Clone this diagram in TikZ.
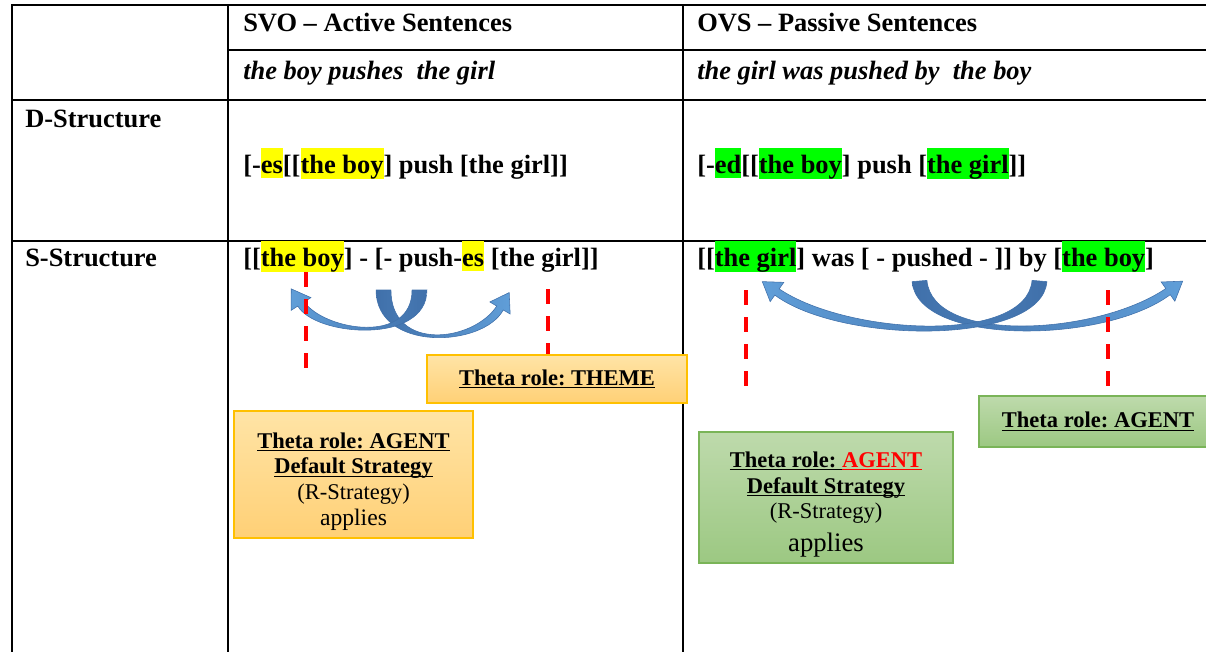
\documentclass[tikz,border=0pt]{standalone}
\usepackage{fontspec}
\setmainfont{Liberation Serif}
\usetikzlibrary{calc}
\definecolor{hlyellow}{RGB}{255,255,0}
\definecolor{hlgreen}{RGB}{0,255,0}
\definecolor{arrowdark}{RGB}{64,112,170}
\definecolor{arrowlight}{RGB}{96,158,216}
\definecolor{themetop}{RGB}{255,228,166}
\definecolor{themebot}{RGB}{255,208,118}
\definecolor{themeline}{RGB}{255,192,0}
\definecolor{agenttop}{RGB}{190,218,172}
\definecolor{agentbot}{RGB}{156,200,130}
\definecolor{agentline}{RGB}{122,180,88}
\frenchspacing
% fonts and text marks
\newcommand{\cellfont}{\fontsize{18.8}{22}\selectfont\bfseries}
\newcommand{\boxfont}{\fontsize{16}{18.2}\selectfont}
\newcommand{\hly}[1]{{\setlength{\fboxsep}{0pt}\colorbox{hlyellow}{\rule[-3.9pt]{0pt}{22pt}#1}}}
\newcommand{\hlg}[1]{{\setlength{\fboxsep}{0pt}\colorbox{hlgreen}{\rule[-3.9pt]{0pt}{22pt}#1}}}
\newcommand{\ulin}[1]{\underline{\smash{#1}}\vphantom{#1}}
% curved block arrow: start, control 1, control 2, end, style
\newcommand{\bendarrow}[5]{%
  \path[#5] ($(#1)!5.3pt!90:(#2)$) .. controls ($(#2)!5.3pt!-90:(#1)$) and ($(#3)!4pt!90:(#4)$) .. ($(#4)!2.7pt!-90:(#3)$)
    -- ($(#4)!8.4pt!-90:(#3)$) -- ($(#4)!12.8pt!180:(#3)$) -- ($(#4)!8.4pt!90:(#3)$) -- ($(#4)!2.7pt!90:(#3)$)
    .. controls ($(#3)!4pt!-90:(#4)$) and ($(#2)!5.3pt!90:(#1)$) .. ($(#1)!5.3pt!-90:(#2)$) -- cycle;}
\begin{document}
\begin{tikzpicture}[x=0.025cm, y=-0.025cm,
    tabline/.style={line width=1.6pt, line cap=rect},
    celltext/.style={anchor=base west, inner sep=0pt, font=\cellfont},
    thetacut/.style={red, line width=2.8pt, dash pattern=on 10.7pt off 8.5pt},
    toright/.style={left color=arrowdark, right color=arrowlight, draw=arrowdark, line width=0.4pt},
    toleft/.style={left color=arrowlight, right color=arrowdark, draw=arrowdark, line width=0.4pt},
    themebox/.style={draw=themeline, line width=0.8pt, top color=themetop, bottom color=themebot,
      align=center, inner sep=0pt, font=\boxfont},
    agentbox/.style={draw=agentline, line width=0.8pt, top color=agenttop, bottom color=agentbot,
      align=center, inner sep=0pt, font=\boxfont}]
  \useasboundingbox (0,0) rectangle (1206,652);
  % Table grid
  \draw[tabline] (12,5) -- (1206,5);
  \draw[tabline] (228,50) -- (1206,50);
  \draw[tabline] (12,100) -- (1206,100);
  \draw[tabline] (12,241) -- (1206,241);
  \draw[tabline] (12,5) -- (12,652);
  \draw[tabline] (228,5) -- (228,652);
  \draw[tabline] (683,5) -- (683,652);
  % Column heads
  \node[celltext] (svohead) at (243,31) {SVO -- Active Sentences};
  \node[celltext] (ovshead) at (697,31) {OVS -- Passive Sentences};
  \node[celltext, font=\cellfont\itshape] (svoex) at (243,79) {the boy pushes~ the girl};
  \node[celltext, font=\cellfont\itshape] (ovsex) at (697,79) {the girl was pushed by~ the boy};
  % Row heads
  \node[celltext] (dlabel) at (25,127) {D-Structure};
  \node[celltext] (slabel) at (25,266) {S-Structure};
  % D-Structure
  \node[celltext] (dsvo) at (243,173) {[-\hly{es}[[\hly{the boy}] push [the girl]]};
  \node[celltext] (dovs) at (697,173) {[-\hlg{ed}[[\hlg{the boy}] push [\hlg{the girl}]]};
  % S-Structure
  \node[celltext] (ssvo) at (243,266) {[[\hly{the boy}] - [- push-\hly{es} [the girl]]};
  \node[celltext] (sovs) at (697,266) {[[\hlg{the girl}] was [ - pushed - ]] by [\hlg{the boy}]};
  % Movement arrows
  \bendarrow{383.5,290}{383.5,352}{478,345}{500,308}{toright}
  \bendarrow{419.5,290}{419.5,345}{320,333.5}{301,304}{toleft}
  \bendarrow{919.5,281}{925,345}{1100,340}{1168,291.6}{toright}
  \bendarrow{1039.5,281}{1034,345}{845,340}{777,292}{toleft}
  % Theta cuts
  \draw[thetacut] (306,272) -- (306,372);
  \draw[thetacut] (548,289) -- (548,355);
  \draw[thetacut] (746,290) -- (746,390);
  \draw[thetacut] (1108,290) -- (1108,390);
  % Theta role boxes
  \node[themebox, minimum width=6.5cm, minimum height=1.2cm] (theme) at (557,379)
    {\ulin{\textbf{Theta role: THEME}}};
  \node[themebox, minimum width=5.975cm, minimum height=3.175cm] (agentsvo) at (353.5,474.5)
    {\rule{0pt}{21pt}\ulin{\textbf{Theta role: AGENT}}\\ \ulin{\textbf{Default Strategy}}\\ (R-Strategy)\\
     {\fontsize{16.8}{18.2}\selectfont applies}};
  \node[agentbox, minimum width=5.95cm, minimum height=1.275cm] (agentovs) at (1098,421.5)
    {\ulin{\textbf{Theta role: AGENT}}};
  \node[agentbox, minimum width=6.35cm, minimum height=3.275cm] (defaultovs) at (826,497.5)
    {\rule{0pt}{21pt}\ulin{\textbf{Theta role: }}\textcolor{red}{\ulin{\textbf{AGENT}}}\\ \ulin{\textbf{Default Strategy}}\\
     (R-Strategy)\\[5pt] {\fontsize{19}{20}\selectfont applies}};
\end{tikzpicture}
\end{document}
